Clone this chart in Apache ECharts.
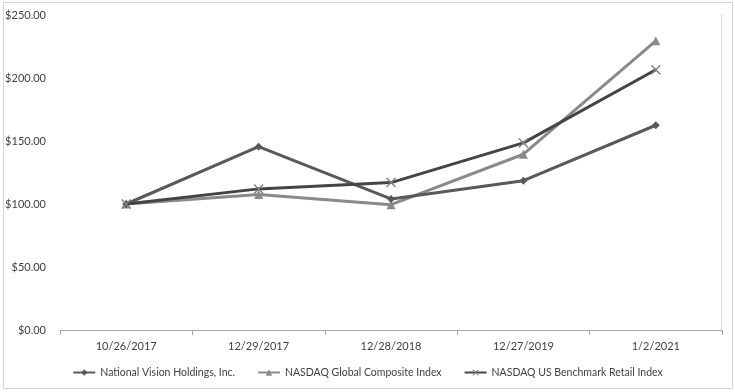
<!DOCTYPE html>
<html>
<head>
<meta charset="utf-8">
<script src="https://cdn.jsdelivr.net/npm/echarts@6/dist/echarts.min.js"></script>
<style>
html,body{margin:0;padding:0;background:#fff;}
#c{width:735px;height:392px;}
</style>
</head>
<body>
<div id="c"></div>
<script>
var categories = ['10/26/2017', '12/29/2017', '12/28/2018', '12/27/2019', '1/2/2021'];
var nationalVision = [100, 145.5, 104, 118.5, 162.5];
var nasdaqGlobal = [100, 107.5, 99.5, 139.5, 229.5];
var nasdaqRetail = [100, 112, 117, 148.5, 206.5];
var yTicks = [0, 50, 100, 150, 200, 250];

var xPath = 'path://M1,0L5,4L9,0L10,1L6,5L10,9L9,10L5,6L1,10L0,9L4,5L0,1Z';
var font = 'Lato, "Open Sans", sans-serif';

var chart = echarts.init(document.getElementById('c'));
chart.setOption({
  animation: false,
  backgroundColor: '#ffffff',
  textStyle: { fontFamily: font },
  grid: { left: 60, right: 13, top: 15, bottom: 62, containLabel: false },
  xAxis: {
    type: 'category',
    data: categories,
    boundaryGap: true,
    axisLine: { lineStyle: { color: '#a6a6a6', width: 1 } },
    axisTick: { show: true, alignWithLabel: false, length: 5, lineStyle: { color: '#a6a6a6' } },
    axisLabel: { color: '#404040', fontSize: 11, margin: 11, fontFamily: font }
  },
  yAxis: {
    type: 'value',
    min: yTicks[0],
    max: yTicks[yTicks.length - 1],
    interval: 50,
    axisLine: { show: false },
    axisTick: { show: false },
    splitLine: { show: false },
    axisLabel: {
      color: '#404040', fontSize: 11, margin: 14, fontFamily: font,
      formatter: function (v) { return '$' + v.toFixed(2); }
    }
  },
  legend: {
    top: 362,
    left: 'center',
    itemWidth: 22,
    itemHeight: 8,
    itemGap: 22,
    textStyle: { color: '#404040', fontSize: 10.5, fontFamily: font },
    data: ['National Vision Holdings, Inc.', 'NASDAQ Global Composite Index', 'NASDAQ US Benchmark Retail Index']
  },
  graphic: [
    { type: 'rect', shape: { x: 3.5, y: 2.5, width: 729, height: 386 }, style: { fill: 'none', stroke: '#d4d4d4', lineWidth: 1 }, silent: true },
    { type: 'line', shape: { x1: 721.5, y1: 14, x2: 721.5, y2: 332 }, style: { stroke: '#d9d9d9', lineWidth: 1 }, silent: true }
  ],
  series: [
    {
      name: 'National Vision Holdings, Inc.',
      type: 'line',
      data: nationalVision,
      symbol: 'diamond',
      symbolSize: 8,
      lineStyle: { color: '#595959', width: 3 },
      itemStyle: { color: '#595959' },
      z: 3
    },
    {
      name: 'NASDAQ Global Composite Index',
      type: 'line',
      data: nasdaqGlobal,
      symbol: 'triangle',
      symbolSize: 9,
      lineStyle: { color: '#8a8a8a', width: 3 },
      itemStyle: { color: '#8a8a8a' },
      z: 2
    },
    {
      name: 'NASDAQ US Benchmark Retail Index',
      type: 'line',
      data: nasdaqRetail,
      symbol: xPath,
      symbolSize: 10,
      lineStyle: { color: '#444444', width: 3 },
      itemStyle: { color: '#808080' },
      z: 4
    }
  ]
});
</script>
</body>
</html>
